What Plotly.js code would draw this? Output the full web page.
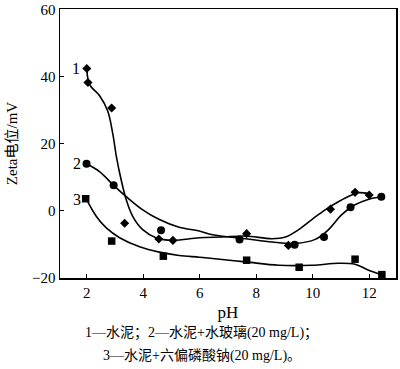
<!DOCTYPE html>
<html>
<head>
<meta charset="utf-8">
<script src="https://cdn.plot.ly/plotly-3.0.1.min.js"></script>
<style>html,body{margin:0;padding:0;background:#fff;}#chart{width:400px;height:369px;}</style>
</head>
<body>
<div id="chart"></div>
<script>
// Measured points
const s1X = [2.0, 2.04, 2.88, 3.34, 4.55, 5.05, 7.66, 9.14, 10.63, 11.5, 12.0];
const s1Y = [42.4, 38.2, 30.6, -3.7, -8.4, -8.8, -6.8, -10.3, 0.5, 5.5, 4.7];
const s2X = [1.99, 2.95, 4.63, 7.41, 9.36, 10.4, 11.34, 12.43];
const s2Y = [14.0, 7.6, -5.8, -8.5, -10.1, -7.8, 1.1, 4.2];
const s3X = [1.96, 2.88, 4.71, 7.66, 9.52, 11.5, 12.45];
const s3Y = [3.6, -9.0, -13.5, -14.7, -16.8, -14.4, -19.0];

// Fitted curves
const c1X = [2.0, 2.1, 2.46, 2.74, 2.92, 3.05, 3.22, 3.40, 3.63, 3.98, 4.45, 5.04, 5.98, 6.8, 7.62, 8.56, 9.03, 9.5, 9.97, 10.44, 10.91, 11.38, 11.61, 11.96];
const c1Y = [42.0, 37.6, 34.2, 29.7, 22.9, 16.0, 9.1, 3.2, -1.7, -5.6, -8.0, -8.8, -8.0, -7.8, -7.5, -8.3, -7.8, -5.6, -2.6, 0.3, 2.7, 4.7, 5.4, 5.2];
const c2X = [1.99, 2.46, 2.95, 3.40, 3.98, 4.57, 5.27, 5.98, 6.45, 7.62, 8.56, 9.38, 10.09, 10.56, 11.02, 11.5, 11.96, 12.43];
const c2Y = [14.0, 11.6, 7.6, 4.2, 0.3, -2.6, -4.9, -6.0, -7.1, -8.3, -9.3, -9.7, -8.5, -5.6, -1.2, 1.8, 3.4, 4.2];
const c3X = [1.99, 2.34, 2.69, 3.16, 3.87, 4.57, 5.27, 5.98, 6.45, 7.62, 8.8, 9.97, 10.91, 11.5, 11.96, 12.43];
const c3Y = [3.4, -1.7, -5.1, -8.0, -10.7, -12.3, -13.3, -13.8, -14.2, -15.2, -16.2, -16.2, -15.6, -15.9, -17.6, -19.0];

const xTicks = [2, 4, 6, 8, 10, 12];
const yTicks = [-20, 0, 20, 40, 60];
const seriesLabels = ["1", "2", "3"];
const labelX = [1.62, 1.64, 1.64];
const labelY = [42.5, 14.0, 3.5];
const xTitle = "pH";
const yTitle = "Zeta电位/mV";
const caption1 = "1—水泥；2—水泥+水玻璃(20 mg/L)；";
const caption2 = "3—水泥+六偏磷酸钠(20 mg/L)。";

const serif = "Liberation Serif, 'Times New Roman', 'Noto Sans CJK SC', serif";
const lineStyle = {color: "#000", width: 1.6, shape: "spline", smoothing: 1};

const traces = [
  {x: c1X, y: c1Y, mode: "lines", line: lineStyle, hoverinfo: "skip"},
  {x: c2X, y: c2Y, mode: "lines", line: lineStyle, hoverinfo: "skip"},
  {x: c3X, y: c3Y, mode: "lines", line: lineStyle, hoverinfo: "skip"},
  {x: s1X, y: s1Y, mode: "markers", marker: {symbol: "diamond", size: 7, color: "#000"}},
  {x: s2X, y: s2Y, mode: "markers", marker: {symbol: "circle", size: 8, color: "#000"}},
  {x: s3X, y: s3Y, mode: "markers", marker: {symbol: "square", size: 7.5, color: "#000"}}
];

const H = 369, W = 400, ml = 60, mr = 2, mt = 6, mb = 91;
const pw = W - ml - mr, ph = H - mt - mb;

const annotations = seriesLabels.map((t, i) => ({
  x: labelX[i], y: labelY[i], xref: "x", yref: "y", text: t, showarrow: false,
  font: {family: serif, size: 16, color: "#000"}
}));
// captions placed by pixel centre (x, y) converted to paper coordinates
[[caption1, 202.5, 333], [caption2, 202.5, 357]].forEach(([t, px, py]) => {
  annotations.push({x: (px - ml) / pw, y: (H - mb - py) / ph, xref: "paper", yref: "paper",
    xanchor: "center", yanchor: "middle", text: t, showarrow: false,
    font: {family: serif, size: 14, color: "#000"}});
});

const layout = {
  width: W, height: H,
  margin: {l: ml, r: mr, t: mt, b: mb},
  paper_bgcolor: "#fff", plot_bgcolor: "#fff",
  showlegend: false,
  font: {family: serif, color: "#000", size: 15},
  xaxis: {
    range: [1.05, 12.95], tickvals: xTicks, ticktext: xTicks.map(String),
    ticks: "inside", ticklen: 4, tickwidth: 1.3, tickcolor: "#000",
    showline: true, linecolor: "#000", linewidth: 1.5, mirror: true,
    showgrid: false, zeroline: false, ticklabeloverflow: "allow", automargin: true,
    tickfont: {family: serif, size: 15, color: "#000"},
    title: {text: xTitle, font: {family: serif, size: 17, color: "#000"}, standoff: 6}
  },
  yaxis: {
    range: [-20, 60.1], tickvals: yTicks, ticktext: yTicks.map(v => v < 0 ? "−" + Math.abs(v) : String(v)),
    ticks: "inside", ticklen: 4, tickwidth: 1.3, tickcolor: "#000",
    showline: true, linecolor: "#000", linewidth: 1.5, mirror: true,
    showgrid: false, zeroline: false, ticklabeloverflow: "allow", automargin: true,
    tickfont: {family: serif, size: 15, color: "#000"},
    title: {text: yTitle, font: {family: serif, size: 15, color: "#000"}, standoff: 11}
  },
  annotations: annotations
};

Plotly.newPlot("chart", traces, layout, {staticPlot: true, displayModeBar: false});
</script>
</body>
</html>
